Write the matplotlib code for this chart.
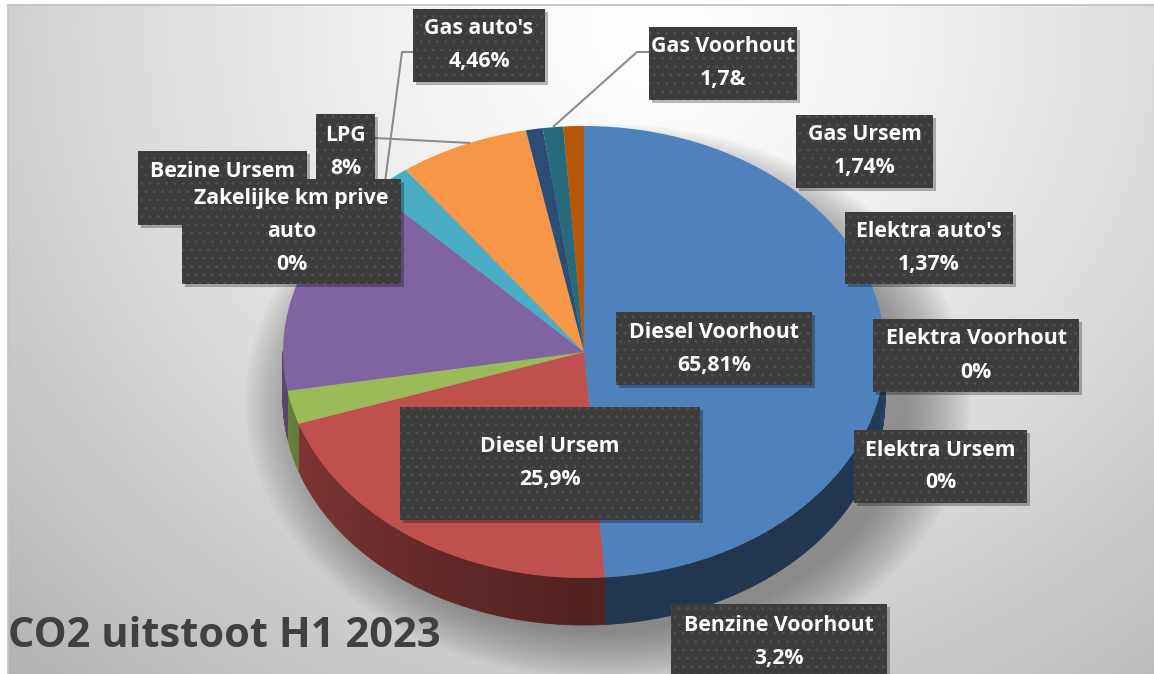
import numpy as np
import matplotlib
matplotlib.use("Agg")
import matplotlib.pyplot as plt
from matplotlib.patches import Rectangle, Ellipse
from matplotlib.collections import PolyCollection
from matplotlib.colors import to_rgb

plt.rcParams['font.family'] = ['Open Sans', 'DejaVu Sans']
plt.rcParams['hatch.linewidth'] = 0.8

# slice order (Excel series order, clockwise from 12 o'clock)
categories = ["Diesel Voorhout", "Diesel Ursem", "Benzine Voorhout", "Bezine Ursem",
              "Zakelijke km prive auto", "LPG", "Gas auto's", "Elektra auto's",
              "Elektra Voorhout", "Elektra Ursem", "Gas Voorhout", "Gas Ursem"]
# slice sizes as drawn in the picture (%)
shares = [49.0, 21.0, 2.4, 15.5, 2.2, 7.0, 0.9, 0.0, 0.0, 0.0, 1.1, 1.1]
colors = ["#4F81BD", "#C0504D", "#9BBB59", "#8064A2", "#4BACC6", "#F79646",
          "#2C4D75", "#772C2A", "#5F7530", "#4D3B62", "#276A7C", "#B65708"]

# data label texts as shown (second line of "Bezine Ursem" is hidden in the chart)
label_texts = {
    "Diesel Voorhout": "Diesel Voorhout\n65,81%",
    "Diesel Ursem": "Diesel Ursem\n25,9%",
    "Benzine Voorhout": "Benzine Voorhout\n3,2%",
    "Bezine Ursem": "Bezine Ursem\n",
    "LPG": "LPG\n8%",
    "Zakelijke km prive auto": "Zakelijke km prive\nauto\n0%",
    "Gas auto's": "Gas auto's\n4,46%",
    "Gas Voorhout": "Gas Voorhout\n1,7&",
    "Gas Ursem": "Gas Ursem\n1,74%",
    "Elektra auto's": "Elektra auto's\n1,37%",
    "Elektra Voorhout": "Elektra Voorhout\n0%",
    "Elektra Ursem": "Elektra Ursem\n0%",
}
title = "CO2 uitstoot H1 2023"

# layout: label boxes in pixels (x0, y0, x1, y1), drawn in this order
box_layout = [
    ("Gas auto's", (413, 9, 545, 82)),
    ("Gas Voorhout", (649, 27, 797, 100)),
    ("Gas Ursem", (796, 115, 933, 188)),
    ("Elektra auto's", (845, 212, 1013, 284)),
    ("Elektra Voorhout", (873, 319, 1079, 392)),
    ("Elektra Ursem", (854, 430, 1027, 503)),
    ("Diesel Voorhout", (616, 312, 812, 385)),
    ("Diesel Ursem", (400, 407, 700, 520)),
    ("Benzine Voorhout", (671, 604, 887, 680)),
    ("Bezine Ursem", (138, 151, 307, 225)),
    ("LPG", (316, 114, 375, 190)),
    ("Zakelijke km prive auto", (182, 179, 401, 284)),
]
leaders = [
    [(649, 52), (637, 52), (553, 127)],
    [(413, 52), (402, 52), (384, 190)],
    [(375, 138), (470, 143)],
]

W, H = 1154, 674
fig = plt.figure(figsize=(W / 100, H / 100), dpi=100)
fig.patch.set_facecolor("white")

# background axes (pixel coordinates)
bg = fig.add_axes([0, 0, 1, 1], zorder=0)
bg.set_xlim(0, W)
bg.set_ylim(H, 0)
bg.axis("off")
yy, xx = np.mgrid[0:H, 0:W]
d = np.sqrt(((xx - 650) / 760.0) ** 2 + ((yy - 30) / 720.0) ** 2)
g = (255 - 58 * np.clip(d, 0, 1.25) ** 1.3) / 255.0
img = np.dstack([g, g, g])
img[:5, :, :] = 1.0
img[:, :8, :] = 1.0
bg.imshow(img, extent=[0, W, H, 0], aspect="auto", interpolation="bilinear")
bg.plot([8, W], [5, 5], color="#bdbdbd", lw=1.2)
bg.plot([8, 8], [5, H], color="#c4c4c4", lw=1.2)
bg.text(8, 647, title, fontsize=30, fontweight="bold", color="#404040",
        ha="left", va="baseline")

# pie axes: unit circle -> ellipse, center (584,352) px, rx 301, ry 226
cx, cy, rx, ry = 584, 352, 301, 226
depth = 47 / ry
ax = fig.add_axes([0, 0, 1, 1], zorder=1)
ax.patch.set_alpha(0)

# soft shadow
for i in range(18):
    s = 1.0 + 0.012 * i
    ax.add_patch(Ellipse((0.08, -0.22), 2 * s, 2 * s * 1.02, color="#505050",
                         alpha=0.04, lw=0, zorder=0))

wedges, _ = ax.pie(shares, colors=colors, startangle=90, counterclock=False,
                   radius=1, center=(0, 0), wedgeprops=dict(linewidth=0))
for w in wedges:
    w.set_zorder(3)

# side walls of the 3D pie
polys, fcs = [], []
for w, c in zip(wedges, colors):
    t1, t2 = w.theta1, w.theta2
    if t2 - t1 <= 0:
        continue
    n = max(2, int((t2 - t1) * 2))
    angs = np.linspace(t1, t2, n + 1)
    base = np.array(to_rgb(c))
    for a, b in zip(angs[:-1], angs[1:]):
        m = np.deg2rad(0.5 * (a + b))
        if np.sin(m) > 0.0:
            continue
        ar, br = np.deg2rad(a), np.deg2rad(b)
        pa = (np.cos(ar), np.sin(ar))
        pb = (np.cos(br), np.sin(br))
        polys.append([pa, pb, (pb[0], pb[1] - depth), (pa[0], pa[1] - depth)])
        deg = np.rad2deg(m) % 360
        k = np.interp(deg, [180, 270, 330, 360], [0.72, 0.42, 0.42, 0.5])
        fcs.append(np.clip(base * k, 0, 1))
side = PolyCollection(polys, facecolors=fcs, edgecolors=fcs, linewidths=0.6, zorder=2)
ax.add_collection(side)

ax.set_aspect("auto")
ax.set_xlim((0 - cx) / rx, (W - cx) / rx)
ax.set_ylim((cy - H) / ry, cy / ry)
ax.axis("off")

# overlay axes for labels (pixel coordinates)
ov = fig.add_axes([0, 0, 1, 1], zorder=2)
ov.patch.set_alpha(0)
ov.set_xlim(0, W)
ov.set_ylim(H, 0)
ov.axis("off")

for pts in leaders:
    xs, ys = zip(*pts)
    ov.plot(xs, ys, color="#8c8c8c", lw=1.5, zorder=1, solid_capstyle="butt")

z = 2
for name, (x0, y0, x1, y1) in box_layout:
    ov.add_patch(Rectangle((x0 + 3, y0 + 3), x1 - x0, y1 - y0, facecolor="#000000",
                           alpha=0.28, lw=0, zorder=z))
    ov.add_patch(Rectangle((x0, y0), x1 - x0, y1 - y0, facecolor="#3c3c3c",
                           lw=0, zorder=z + 0.1))
    ov.add_patch(Rectangle((x0, y0), x1 - x0, y1 - y0, fill=False, hatch="..",
                           edgecolor="#525252", lw=0, zorder=z + 0.2))
    lines = label_texts[name].split("\n")
    yc = 0.5 * (y0 + y1) - 16.5 * (len(lines) - 1)
    for i, line in enumerate(lines):
        ov.text(0.5 * (x0 + x1), yc + 33 * i, line, fontsize=15.3,
                fontweight="bold", color="white", ha="center", va="center",
                zorder=z + 0.3)
    z += 1

fig.savefig("out.png", dpi=100)
